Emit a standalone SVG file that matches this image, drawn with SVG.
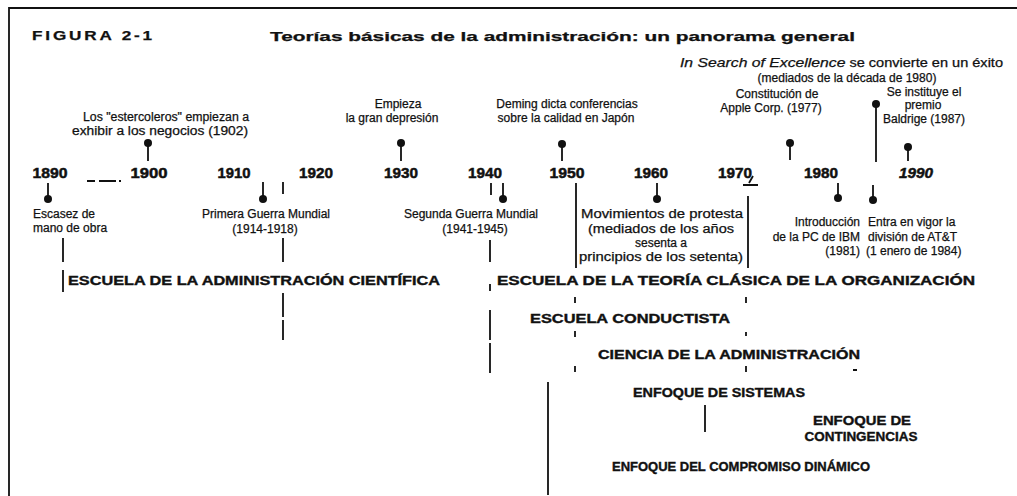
<svg xmlns="http://www.w3.org/2000/svg" width="1017" height="496" viewBox="0 0 1017 496">
<style>
.t{font-family:"Liberation Sans",Arial,Helvetica,sans-serif;font-size:12px;fill:#111;stroke:#111;stroke-width:0.25}
.m{text-anchor:middle}
.e{text-anchor:end}
.yr{font-weight:bold;font-size:15px;text-anchor:middle;stroke-width:0.5}
.sc{font-weight:bold;font-size:13.5px;stroke-width:0.4}
.ln{stroke:#111;stroke-width:1.8;fill:none}
.dot{fill:#111}
</style>
<rect width="1017" height="496" fill="#fff"/>
<g id="frame"><path class="ln" d="M9,496 V8 H1017" stroke-width="2"/></g>
<g id="title">
<text class="t" x="32" y="40" font-weight="bold" font-size="11" letter-spacing="2" textLength="123" lengthAdjust="spacingAndGlyphs">FIGURA 2-1</text>
<text class="t" x="270" y="41" font-weight="bold" font-size="15" textLength="585" lengthAdjust="spacingAndGlyphs">Teorías básicas de la administración: un panorama general</text>
</g>
<g id="connectors">
<path class="ln" d="M148,143 V161 M401,143 V161 M562,144 V161 M790,143 V160 M876,104 V162 M908,147 V161"/>
<path class="ln" d="M87,181 H95 M99,181 H116 M119,181 H121 M283,182 V194 M743,185 H758 M749,183 L753,176"/>
<path class="ln" d="M48,183 V198 M263,182 V198 M491,183 V195 M503,183 V198 M657,183 V198 M838,183 V197 M873,185 V199"/>
<path class="ln" d="M576,183 V268 M748,196 V268"/>
<path class="ln" d="M63,238 V262 M63,270 V292"/>
<path class="ln" d="M283,238 V262 M283,293 V317 M283,320 V340"/>
<path class="ln" d="M490,240 V262 M490,284 V291 M490,310 V340 M490,343 V373"/>
<path class="ln" d="M575,297 V303 M746,297 V303 M575,331 V337 M746,332 V336 M575,366 V372 M746,366 V372 M853,370 H857"/>
<path class="ln" d="M548,382 V495 M705,405 V432"/>
</g>
<g id="pins">
<circle class="dot" cx="148" cy="143" r="4"/><circle class="dot" cx="401" cy="143" r="4"/><circle class="dot" cx="562" cy="144" r="4"/>
<circle class="dot" cx="790" cy="143" r="4"/><circle class="dot" cx="876" cy="104" r="4"/><circle class="dot" cx="908" cy="147" r="4"/>
<circle class="dot" cx="48" cy="199" r="4"/><circle class="dot" cx="263" cy="199" r="4"/><circle class="dot" cx="503" cy="199" r="4"/>
<circle class="dot" cx="657" cy="199" r="4"/><circle class="dot" cx="838" cy="198" r="4"/><circle class="dot" cx="873" cy="200" r="4"/>
</g>
<g id="years">
<text class="t yr" x="50" y="178" textLength="35" lengthAdjust="spacingAndGlyphs">1890</text>
<text class="t yr" x="149" y="178" textLength="37" lengthAdjust="spacingAndGlyphs">1900</text>
<text class="t yr" x="234" y="178" textLength="33" lengthAdjust="spacingAndGlyphs">1910</text>
<text class="t yr" x="316" y="178" textLength="34" lengthAdjust="spacingAndGlyphs">1920</text>
<text class="t yr" x="401" y="178" textLength="34" lengthAdjust="spacingAndGlyphs">1930</text>
<text class="t yr" x="485" y="178" textLength="34" lengthAdjust="spacingAndGlyphs">1940</text>
<text class="t yr" x="567" y="178" textLength="35" lengthAdjust="spacingAndGlyphs">1950</text>
<text class="t yr" x="651" y="178" textLength="34" lengthAdjust="spacingAndGlyphs">1960</text>
<text class="t yr" x="735" y="178" textLength="34" lengthAdjust="spacingAndGlyphs">1970</text>
<text class="t yr" x="821" y="178" textLength="34" lengthAdjust="spacingAndGlyphs">1980</text>
<text class="t yr" x="916" y="178" font-style="italic" textLength="34" lengthAdjust="spacingAndGlyphs">1990</text>
</g>
<g id="ev-excellence">
<text class="t" x="680" y="67" textLength="323" lengthAdjust="spacingAndGlyphs"><tspan font-style="italic" font-size="13">In Search of Excellence</tspan> se convierte en un éxito</text>
<text class="t m" x="847" y="82">(mediados de la década de 1980)</text>
</g>
<g id="ev-apple">
<text class="t m" x="777" y="98">Constitución de</text>
<text class="t m" x="771" y="112">Apple Corp. (1977)</text>
</g>
<g id="ev-baldrige">
<text class="t m" x="924" y="96">Se instituye el</text>
<text class="t m" x="923" y="109">premio</text>
<text class="t m" x="924" y="123">Baldrige (1987)</text>
</g>
<g id="ev-estercoleros">
<text class="t m" x="166" y="121" textLength="166" lengthAdjust="spacingAndGlyphs">Los "estercoleros" empiezan a</text>
<text class="t m" x="160" y="135" textLength="176" lengthAdjust="spacingAndGlyphs">exhibir a los negocios (1902)</text>
</g>
<g id="ev-depresion">
<text class="t m" x="398" y="108">Empieza</text>
<text class="t m" x="392" y="122">la gran depresión</text>
</g>
<g id="ev-deming">
<text class="t m" x="567" y="108">Deming dicta conferencias</text>
<text class="t m" x="566" y="122">sobre la calidad en Japón</text>
</g>
<g id="ev-escasez">
<text class="t" x="33" y="218">Escasez de</text>
<text class="t" x="33" y="232">mano de obra</text>
</g>
<g id="ev-primera">
<text class="t m" x="266" y="218">Primera Guerra  Mundial</text>
<text class="t m" x="265" y="233">(1914-1918)</text>
</g>
<g id="ev-segunda">
<text class="t m" x="471" y="218">Segunda Guerra  Mundial</text>
<text class="t m" x="475" y="233">(1941-1945)</text>
</g>
<g id="ev-movimientos">
<text class="t m" x="662" y="218" textLength="162" lengthAdjust="spacingAndGlyphs">Movimientos de protesta</text>
<text class="t m" x="661" y="233" textLength="146" lengthAdjust="spacingAndGlyphs">(mediados de los años</text>
<text class="t m" x="661" y="247">sesenta a</text>
<text class="t m" x="661" y="261" textLength="164" lengthAdjust="spacingAndGlyphs">principios de los setenta)</text>
</g>
<g id="ev-ibm">
<text class="t e" x="860" y="226">Introducción</text>
<text class="t e" x="860" y="241">de la PC de IBM</text>
<text class="t e" x="860" y="255">(1981)</text>
</g>
<g id="ev-att">
<text class="t" x="868" y="226">Entra en vigor la</text>
<text class="t" x="868" y="241">división de AT&amp;T</text>
<text class="t" x="866" y="255">(1 enero de 1984)</text>
</g>
<g id="school-cientifica"><text class="t sc" x="68" y="285" textLength="372" lengthAdjust="spacingAndGlyphs">ESCUELA DE LA ADMINISTRACIÓN CIENTÍFICA</text></g>
<g id="school-clasica"><text class="t sc" x="497" y="285" textLength="478" lengthAdjust="spacingAndGlyphs">ESCUELA DE LA TEORÍA CLÁSICA DE LA ORGANIZACIÓN</text></g>
<g id="school-conductista"><text class="t sc" x="530" y="323" textLength="200" lengthAdjust="spacingAndGlyphs">ESCUELA CONDUCTISTA</text></g>
<g id="school-ciencia"><text class="t sc" x="598" y="359" textLength="262" lengthAdjust="spacingAndGlyphs">CIENCIA DE LA ADMINISTRACIÓN</text></g>
<g id="school-sistemas"><text class="t sc" x="633" y="397" textLength="172" lengthAdjust="spacingAndGlyphs">ENFOQUE DE SISTEMAS</text></g>
<g id="school-contingencias">
<text class="t sc m" x="862" y="425" textLength="98" lengthAdjust="spacingAndGlyphs">ENFOQUE DE</text>
<text class="t sc m" x="861" y="441" textLength="113" lengthAdjust="spacingAndGlyphs">CONTINGENCIAS</text>
</g>
<g id="school-dinamico"><text class="t sc" x="612" y="471" textLength="258" lengthAdjust="spacingAndGlyphs">ENFOQUE DEL COMPROMISO DINÁMICO</text></g>
</svg>
